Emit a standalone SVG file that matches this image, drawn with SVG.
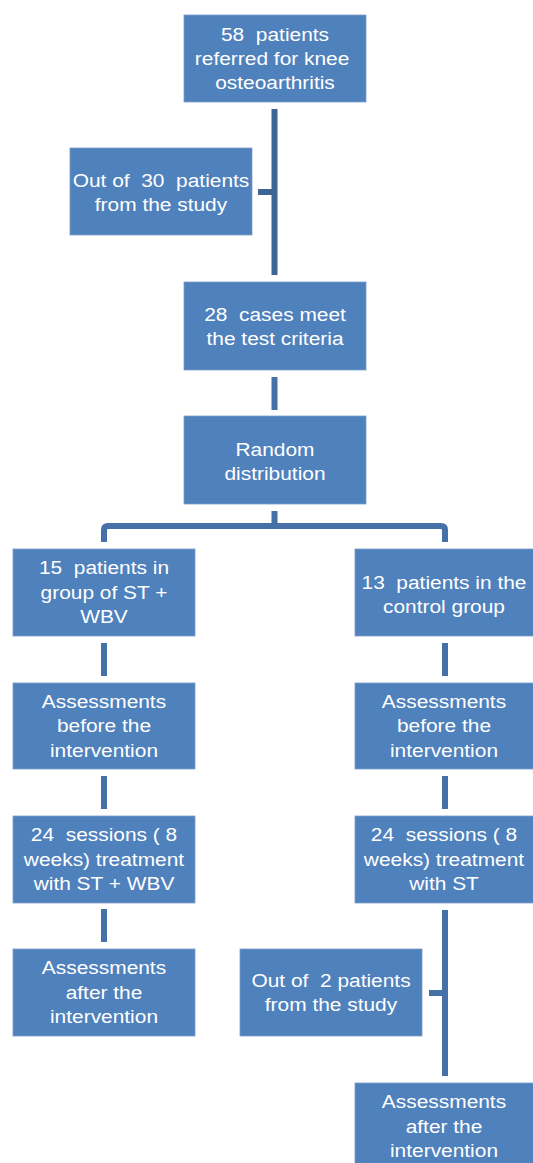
<svg xmlns="http://www.w3.org/2000/svg" width="533" height="1163" viewBox="0 0 533 1163">
<style>
.box{fill:#4F81BD;stroke:#7C9DCB;stroke-width:0.8}
.t{fill:#FFFFFF;font-family:"Liberation Sans",Arial,sans-serif;font-size:19px;text-anchor:middle;white-space:pre}
.c{fill:#4571A8}
.cd{fill:#3E6598}
.cl{fill:none;stroke:#4571A8;stroke-width:6;stroke-linejoin:round}
</style>
<rect width="533" height="1163" fill="#FFFFFF"/>
<g id="connectors">
<rect class="cd" x="271.5" y="109" width="6" height="166"/>
<rect class="cd" x="258" y="189" width="16" height="6"/>
<rect class="c" x="271.5" y="377" width="6" height="33"/>
<rect class="c" x="271.5" y="511" width="6" height="15"/>
<path class="cl" d="M104 542 V530 Q104 526 108 526 H441 Q445 526 445 530 V542"/>
<rect class="c" x="101" y="643" width="6" height="33"/>
<rect class="c" x="101" y="776" width="6" height="33"/>
<rect class="c" x="101" y="909" width="6" height="33"/>
<rect class="c" x="442" y="643" width="6" height="33"/>
<rect class="c" x="442" y="776" width="6" height="33"/>
<rect class="c" x="442" y="910" width="6" height="166"/>
<rect class="c" x="429" y="990" width="16" height="6"/>
</g>
<g id="n1">
<rect class="box" x="184" y="15" width="182" height="87"/>
<g transform="translate(275 0) scale(1.1 1)"><text class="t" x="0" y="40.7">58  patients</text><text class="t" x="0" y="65">referred for knee </text><text class="t" x="0" y="89.3">osteoarthritis</text></g>
</g>
<g id="n2">
<rect class="box" x="70" y="148" width="182" height="87"/>
<g transform="translate(161 0) scale(1.1 1)"><text class="t" x="0" y="187.3">Out of  30  patients</text><text class="t" x="0" y="211">from the study</text></g>
</g>
<g id="n3">
<rect class="box" x="184" y="282" width="182" height="88"/>
<g transform="translate(275 0) scale(1.1 1)"><text class="t" x="0" y="321.5">28  cases meet</text><text class="t" x="0" y="345.5">the test criteria</text></g>
</g>
<g id="n4">
<rect class="box" x="184" y="416" width="182" height="88"/>
<g transform="translate(275 0) scale(1.1 1)"><text class="t" x="0" y="456">Random</text><text class="t" x="0" y="480">distribution</text></g>
</g>
<g id="n5">
<rect class="box" x="13" y="549" width="182" height="87"/>
<g transform="translate(104 0) scale(1.1 1)"><text class="t" x="0" y="574.5">15  patients in</text><text class="t" x="0" y="598.8">group of ST +</text><text class="t" x="0" y="623">WBV</text></g>
</g>
<g id="n6">
<rect class="box" x="355" y="549" width="182" height="87"/>
<g transform="translate(444 0) scale(1.1 1)"><text class="t" x="0" y="589">13  patients in the</text><text class="t" x="0" y="613">control group</text></g>
</g>
<g id="n7">
<rect class="box" x="13" y="683" width="182" height="86"/>
<g transform="translate(104 0) scale(1.1 1)"><text class="t" x="0" y="708">Assessments</text><text class="t" x="0" y="732.3">before the</text><text class="t" x="0" y="756.6">intervention</text></g>
</g>
<g id="n8">
<rect class="box" x="355" y="683" width="182" height="86"/>
<g transform="translate(444 0) scale(1.1 1)"><text class="t" x="0" y="708">Assessments</text><text class="t" x="0" y="732.3">before the</text><text class="t" x="0" y="756.6">intervention</text></g>
</g>
<g id="n9">
<rect class="box" x="13" y="816" width="182" height="87"/>
<g transform="translate(104 0) scale(1.1 1)"><text class="t" x="0" y="841.5">24  sessions ( 8</text><text class="t" x="0" y="866">weeks) treatment</text><text class="t" x="0" y="890.3">with ST + WBV</text></g>
</g>
<g id="n10">
<rect class="box" x="355" y="816" width="182" height="87"/>
<g transform="translate(444 0) scale(1.1 1)"><text class="t" x="0" y="841.5">24  sessions ( 8</text><text class="t" x="0" y="866">weeks) treatment</text><text class="t" x="0" y="890.3">with ST</text></g>
</g>
<g id="n11">
<rect class="box" x="13" y="949" width="182" height="87"/>
<g transform="translate(104 0) scale(1.1 1)"><text class="t" x="0" y="974.5">Assessments</text><text class="t" x="0" y="998.8">after the</text><text class="t" x="0" y="1023">intervention</text></g>
</g>
<g id="n12">
<rect class="box" x="240" y="949" width="182" height="87"/>
<g transform="translate(331 0) scale(1.1 1)"><text class="t" x="0" y="987.5">Out of  2 patients</text><text class="t" x="0" y="1011.5">from the study</text></g>
</g>
<g id="n13">
<rect class="box" x="355" y="1083" width="182" height="90"/>
<g transform="translate(444 0) scale(1.1 1)"><text class="t" x="0" y="1108.5">Assessments</text><text class="t" x="0" y="1132.8">after the</text><text class="t" x="0" y="1157">intervention</text></g>
</g>
</svg>
